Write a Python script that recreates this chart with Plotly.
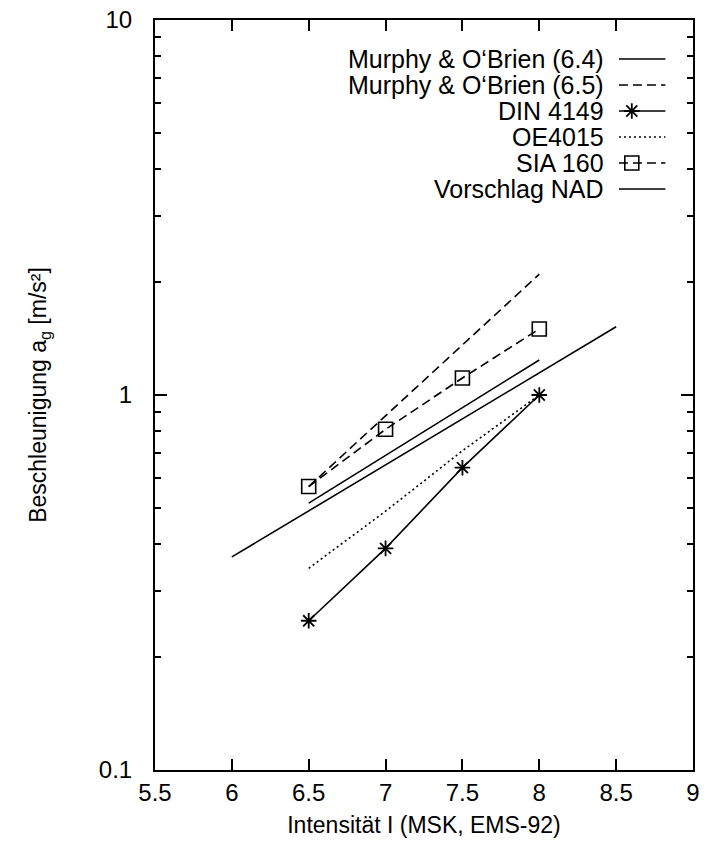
import plotly.graph_objects as go

# ---- data ----
intensity = [6.5, 7.0, 7.5, 8.0]
murphy64_x = [6.5, 8.0]
murphy64_y = [0.515, 1.24]
murphy65_x = [6.5, 8.0]
murphy65_y = [0.57, 2.1]
din_y = [0.25, 0.39, 0.64, 1.0]
oe_y = [0.345, 0.49, 0.71, 1.0]
sia_y = [0.57, 0.81, 1.11, 1.5]
nad_x = [6.0, 8.5]
nad_y = [0.37, 1.52]

legend_labels = ["Murphy & O\u2018Brien (6.4)", "Murphy & O\u2018Brien (6.5)", "DIN 4149",
                 "OE4015", "SIA 160", "Vorschlag NAD"]

x_ticks = [5.5, 6, 6.5, 7, 7.5, 8, 8.5, 9]
x_ticktext = ["5.5", "6", "6.5", "7", "7.5", "8", "8.5", "9"]
y_ticks = [0.1, 1, 10]
y_ticktext = ["0.1", "1", "10"]
y_minor = [0.2, 0.3, 0.4, 0.5, 0.6, 0.7, 0.8, 0.9, 2, 3, 4, 5, 6, 7, 8, 9]

FONT = "Liberation Sans, Arial, sans-serif"
LW = 1.6

styles = [
    dict(mode="lines", line=dict(color="black", width=LW, dash="solid")),
    dict(mode="lines", line=dict(color="black", width=LW, dash="9px,5px")),
    dict(mode="lines+markers", line=dict(color="black", width=LW),
         marker=dict(symbol="asterisk-open", size=13, color="black", line=dict(color="black", width=1.8))),
    dict(mode="lines", line=dict(color="black", width=LW, dash="2px,3px")),
    dict(mode="lines+markers", line=dict(color="black", width=LW, dash="9px,5px"),
         marker=dict(symbol="square-open", size=14, color="black", line=dict(color="black", width=1.6))),
    dict(mode="lines", line=dict(color="black", width=LW, dash="solid")),
]

series = [
    (murphy64_x, murphy64_y),
    (murphy65_x, murphy65_y),
    (intensity, din_y),
    (intensity, oe_y),
    (intensity, sia_y),
    (nad_x, nad_y),
]

fig = go.Figure()
for (xs, ys), st, name in zip(series, styles, legend_labels):
    fig.add_trace(go.Scatter(x=xs, y=ys, name=name, showlegend=False, **st))

# ---- hand-made legend (text right, sample on the right) ----
W, H = 706, 844
ml, mr, mt, mb = 155, 6, 20, 74
pw, ph = W - ml - mr, H - mt - mb

def px_x(p):
    return (p - ml) / pw

def px_y(p):
    return (H - mb - p) / ph

row_y = [59, 85, 111, 137, 163, 189]
for i, name in enumerate(legend_labels):
    yp = px_y(row_y[i])
    fig.add_annotation(x=px_x(612), y=yp, xref="paper", yref="paper", text=name,
                       showarrow=False, xanchor="right", yanchor="middle",
                       font=dict(family=FONT, size=25, color="black"))
    st = styles[i]
    sx = [px_x(625), px_x(672)]
    sy = [yp, yp]
    fig.add_trace(go.Scatter(x=sx, y=sy, xaxis="x2", yaxis="y2", showlegend=False,
                             mode="lines", line=st["line"], hoverinfo="skip"))
    if "marker" in st:
        fig.add_trace(go.Scatter(x=[px_x(638)], y=[yp], xaxis="x2", yaxis="y2", showlegend=False,
                                 mode="markers", marker=st["marker"], hoverinfo="skip"))

fig.update_layout(
    width=W, height=H,
    margin=dict(l=ml, r=mr, t=mt, b=mb),
    paper_bgcolor="white", plot_bgcolor="white",
    font=dict(family=FONT, size=24, color="black"),
    xaxis=dict(range=[5.5, 9], tickvals=x_ticks, ticktext=x_ticktext,
               ticks="inside", ticklen=11, tickwidth=1.5, tickcolor="black",
               showline=True, linecolor="black", linewidth=2, mirror="allticks",
               showgrid=False, zeroline=False,
               title=dict(text="Intensit\u00e4t I (MSK, EMS-92)", font=dict(size=23), standoff=12)),
    yaxis=dict(type="log", range=[-1, 1], tickvals=y_ticks, ticktext=y_ticktext,
               ticks="inside", ticklen=12, tickwidth=1.5, tickcolor="black",
               minor=dict(tickvals=y_minor, ticks="inside", ticklen=6, tickwidth=1.5, tickcolor="black"),
               showline=True, linecolor="black", linewidth=2, mirror="allticks",
               showgrid=False, zeroline=False, ticklabelstandoff=16,
               title=dict(text="Beschleunigung a<sub>g</sub> [m/s\u00b2]", font=dict(size=23), standoff=46)),
    xaxis2=dict(range=[0, 1], overlaying="x", visible=False),
    yaxis2=dict(range=[0, 1], overlaying="y", visible=False),
)

fig.write_html("out.html")
